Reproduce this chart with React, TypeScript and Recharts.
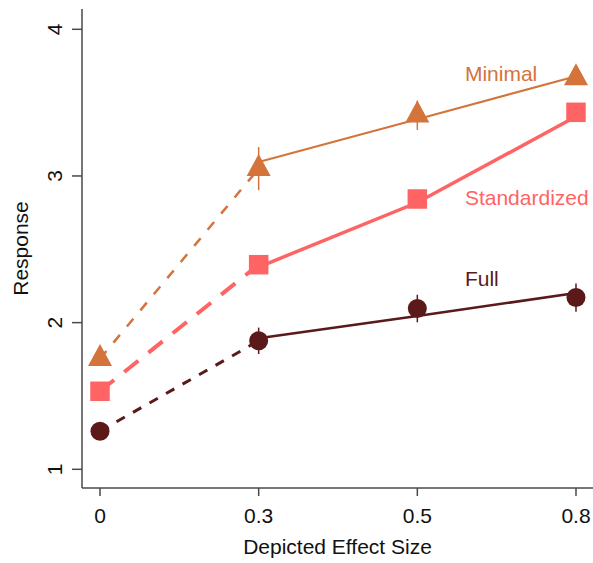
import React from 'react';
import { ComposedChart, Line, XAxis, YAxis, ErrorBar, ReferenceDot, Label } from 'recharts';

const categories = ['0', '0.3', '0.5', '0.8'];
const yTicks = [1, 2, 3, 4];

const minimalMean = [1.754, 3.05, 3.414, 3.669];
const minimalErr = [0.03, 0.147, 0.1, 0.04];
const minimalFit = [null, 3.095, 3.387, 3.68];

const standardizedMean = [1.532, 2.395, 2.843, 3.434];
const standardizedErr = [0.03, 0.05, 0.05, 0.05];
const standardizedFit = [null, 2.379, 2.819, 3.405];

const fullMean = [1.26, 1.876, 2.096, 2.171];
const fullErr = [0.04, 0.09, 0.094, 0.096];
const fullFit = [null, 1.893, 2.045, 2.202];

const C_MIN = '#D4733A';
const C_STD = '#FF6464';
const C_FULL = '#5B1919';
const FONT = '"Liberation Sans", Arial, sans-serif';
const FS = 21;
const AXIS = '#4a4a4a';

const data = categories.map((c, i) => ({
  idx: i,
  minMean: minimalMean[i],
  minErr: minimalErr[i],
  minDash: i <= 1 ? minimalMean[i] : null,
  minFit: minimalFit[i],
  stdMean: standardizedMean[i],
  stdErr: standardizedErr[i],
  stdDash: i <= 1 ? standardizedMean[i] : null,
  stdFit: standardizedFit[i],
  fullMean: fullMean[i],
  fullErr: fullErr[i],
  fullDash: i <= 1 ? fullMean[i] : null,
  fullFit: fullFit[i],
}));

const triangleDot = (color: string) => (props: any) => {
  const { cx, cy, index } = props;
  if (cx == null || cy == null) return <g key={`t${index}`} />;
  const w = 12;
  const h = 22;
  const d = `M${cx},${cy - (2 * h) / 3} L${cx + w},${cy + h / 3} L${cx - w},${cy + h / 3} Z`;
  return <path key={`t${index}`} d={d} fill={color} />;
};

const squareDot = (color: string) => (props: any) => {
  const { cx, cy, index } = props;
  if (cx == null || cy == null) return <g key={`s${index}`} />;
  const s = 19.5;
  return <rect key={`s${index}`} x={cx - s / 2} y={cy - s / 2} width={s} height={s} fill={color} />;
};

const circleDot = (color: string) => (props: any) => {
  const { cx, cy, index } = props;
  if (cx == null || cy == null) return <g key={`c${index}`} />;
  return <circle key={`c${index}`} cx={cx} cy={cy} r={9.5} fill={color} />;
};

const YTick = (props: any) => {
  const { x, y, payload } = props;
  return (
    <g transform={`translate(${x - 10},${y})`}>
      <text transform="rotate(-90)" textAnchor="middle" fontFamily={FONT} fontSize={FS} fill="#111">
        {payload.value}
      </text>
    </g>
  );
};

const YTitle = (props: any) => {
  const vb = props.viewBox || { x: 0, y: 0, width: 0, height: 0 };
  const cx = vb.x + 28;
  const cy = vb.y + vb.height / 2;
  return (
    <text
      x={cx}
      y={cy}
      transform={`rotate(-90, ${cx}, ${cy})`}
      textAnchor="middle"
      fontFamily={FONT}
      fontSize={FS}
      fill="#111"
    >
      Response
    </text>
  );
};

const XTitle = (props: any) => {
  const vb = props.viewBox || { x: 0, y: 0, width: 0, height: 0 };
  return (
    <text
      x={vb.x + vb.width / 2}
      y={vb.y + 66}
      textAnchor="middle"
      fontFamily={FONT}
      fontSize={FS}
      fill="#111"
    >
      Depicted Effect Size
    </text>
  );
};

export default function App() {
  return (
    <div style={{ position: 'absolute', left: 0, top: 0, background: '#fff' }}>
      <ComposedChart
        width={593}
        height={563}
        data={data}
        margin={{ top: 9, right: 0, bottom: 0, left: 0 }}
      >
        <XAxis
          dataKey="idx"
          type="number"
          domain={[-0.11345, 3.1072]}
          allowDataOverflow
          ticks={[0, 1, 2, 3]}
          tickFormatter={(v: number) => categories[v]}
          height={75}
          tickSize={8}
          tickMargin={12}
          stroke={AXIS}
          strokeWidth={1.5}
          tick={{ fontFamily: FONT, fontSize: FS, fill: '#111' }}
        >
          <Label content={XTitle} />
        </XAxis>
        <YAxis
          type="number"
          domain={[0.8725, 4.1384]}
          allowDataOverflow
          ticks={yTicks}
          width={82}
          tickSize={10}
          tickMargin={0}
          stroke={AXIS}
          strokeWidth={1.5}
          tick={YTick}
        >
          <Label content={YTitle} />
        </YAxis>

        <Line dataKey="fullDash" type="linear" stroke={C_FULL} strokeWidth={3} strokeDasharray="9.5 9.5" dot={false} activeDot={false} isAnimationActive={false} />
        <Line dataKey="fullFit" type="linear" stroke={C_FULL} strokeWidth={2.5} dot={false} activeDot={false} isAnimationActive={false} />
        <Line dataKey="fullMean" type="linear" stroke="none" strokeWidth={0} dot={circleDot(C_FULL)} activeDot={false} isAnimationActive={false}>
          <ErrorBar dataKey="fullErr" direction="y" width={0} stroke={C_FULL} strokeWidth={1.5} isAnimationActive={false} />
        </Line>

        <Line dataKey="stdDash" type="linear" stroke={C_STD} strokeWidth={4} strokeDasharray="18 13" dot={false} activeDot={false} isAnimationActive={false} />
        <Line dataKey="stdFit" type="linear" stroke={C_STD} strokeWidth={3.5} dot={false} activeDot={false} isAnimationActive={false} />
        <Line dataKey="stdMean" type="linear" stroke="none" strokeWidth={0} dot={squareDot(C_STD)} activeDot={false} isAnimationActive={false}>
          <ErrorBar dataKey="stdErr" direction="y" width={0} stroke={C_STD} strokeWidth={1.5} isAnimationActive={false} />
        </Line>

        <Line dataKey="minDash" type="linear" stroke={C_MIN} strokeWidth={2.5} strokeDasharray="10 11" dot={false} activeDot={false} isAnimationActive={false} />
        <Line dataKey="minFit" type="linear" stroke={C_MIN} strokeWidth={2} dot={false} activeDot={false} isAnimationActive={false} />
        <Line dataKey="minMean" type="linear" stroke="none" strokeWidth={0} dot={triangleDot(C_MIN)} activeDot={false} isAnimationActive={false}>
          <ErrorBar dataKey="minErr" direction="y" width={0} stroke={C_MIN} strokeWidth={1.5} isAnimationActive={false} />
        </Line>

        <ReferenceDot x={2.3} y={3.70} r={0} fill="none" stroke="none"
          label={{ value: 'Minimal', position: 'right', offset: 0, fill: C_MIN, fontSize: FS, fontFamily: FONT }} />
        <ReferenceDot x={2.3} y={2.853} r={0} fill="none" stroke="none"
          label={{ value: 'Standardized', position: 'right', offset: 0, fill: C_STD, fontSize: FS, fontFamily: FONT }} />
        <ReferenceDot x={2.3} y={2.298} r={0} fill="none" stroke="none"
          label={{ value: 'Full', position: 'right', offset: 0, fill: C_FULL, fontSize: FS, fontFamily: FONT }} />
      </ComposedChart>
    </div>
  );
}
